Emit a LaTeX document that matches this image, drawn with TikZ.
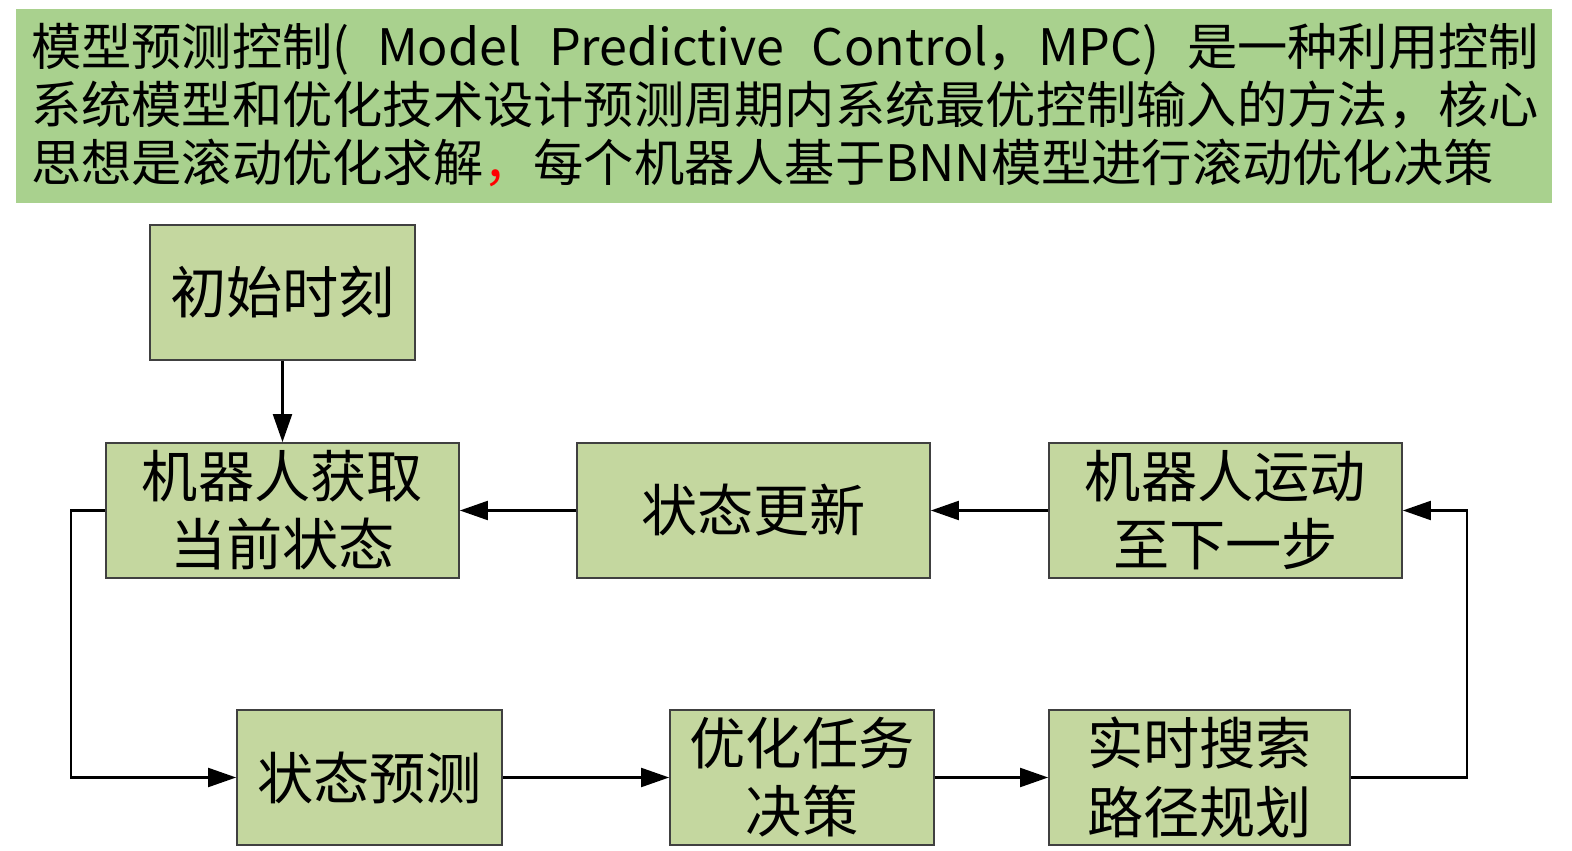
\documentclass[tikz,border=0pt]{standalone}
\usepackage{fontspec}
\setmainfont{Noto Sans CJK SC}
\usepackage{tikz}
\usetikzlibrary{arrows.meta,positioning}

\definecolor{bandgreen}{HTML}{A9D18E}
\definecolor{boxgreen}{HTML}{C4D79F}
\definecolor{boxline}{HTML}{404040}

\begin{document}
\begin{tikzpicture}[->,>={Triangle[length=2.8mm,width=1.9mm]},line width=0.6pt,
        main/.style={rectangle,draw=boxline,line width=0.5pt,fill=boxgreen,minimum height=1.35cm,
        inner sep=0pt,align=center,font=\fontsize{16}{19.4}\selectfont},
        intro/.style={anchor=base west,inner sep=0pt,font=\fontsize{14.3}{16.5}\selectfont}]
		\useasboundingbox (0,0) rectangle (15.72,8.51);
		\fill[bandgreen] (0.16,8.42) rectangle (15.52,6.48);
		\node [intro] (t1) at (0.30, 7.85) {\makebox[15.08cm][s]{模型预测控制( Model Predictive Control，MPC) 是一种利用控制}};
		\node [intro] (t2) at (0.30, 7.27) {系统模型和优化技术设计预测周期内系统最优控制输入的方法，核心};
		\node [intro] (t3) at (0.30, 6.69) {思想是滚动优化求解{\color{red}，}每个机器人基于BNN模型进行滚动优化决策};
		\node [main,minimum width=2.65cm] (1) at (2.825, 5.585) {初始时刻};
		\node [main,minimum width=3.53cm] (2) at (2.825, 3.405) {机器人获取\\当前状态};
		\node [main,minimum width=3.53cm] (3) at (7.535, 3.405) {状态更新};
		\node [main,minimum width=3.53cm] (4) at (12.255, 3.405) {机器人运动\\至下一步};
		\node [main,minimum width=2.65cm] (5) at (3.695, 0.735) {状态预测};
		\node [main,minimum width=2.64cm] (6) at (8.02, 0.735) {优化任务\\决策};
		\node [main,minimum width=3.01cm] (7) at (11.995, 0.735) {实时搜索\\路径规划};
		\draw (1) to (2);
		\draw (3) to (2);
		\draw (4) to (3);
		\draw (2.west) -- ++(-0.34,0) |- (5.west);
		\draw (5) to (6);
		\draw (6) to (7);
		\draw (7.east) -- ++(1.16,0) |- (4.east);
\end{tikzpicture}
\end{document}
